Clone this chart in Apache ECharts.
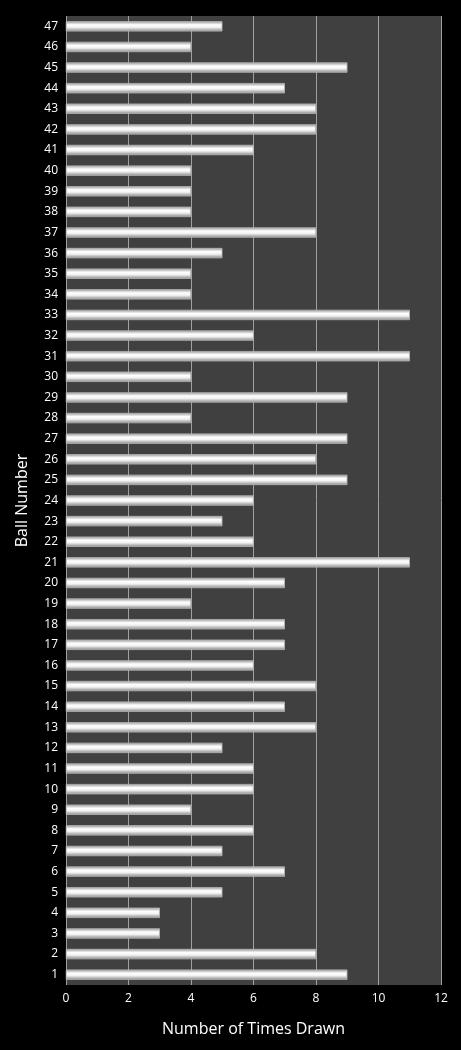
<!DOCTYPE html>
<html><head><meta charset="utf-8">
<script src="https://cdn.jsdelivr.net/npm/echarts@6/dist/echarts.min.js"></script>
<style>html,body{margin:0;background:#000}#c{width:461px;height:1050px}</style>
</head><body><div id="c"></div>
<script>
const categories = Array.from({length:47},(_,i)=>String(i+1));
const timesDrawn = [9,8,3,3,5,7,5,6,4,6,6,5,8,7,8,6,7,7,4,7,11,6,5,6,9,8,9,4,9,4,11,6,11,4,4,5,8,4,4,4,6,8,8,7,9,4,5];
const xTicks = {min:0,max:12,interval:2};
const chart = echarts.init(document.getElementById('c'));
chart.setOption({
  backgroundColor:'#000',
  grid:{left:66,right:20,top:16,bottom:65,show:true,backgroundColor:'#404040',borderWidth:0},
  xAxis:{type:'value',min:xTicks.min,max:xTicks.max,interval:xTicks.interval,
    name:'Number of Times Drawn',nameLocation:'middle',nameGap:36,
    nameTextStyle:{color:'#fff',fontSize:16,fontFamily:'Open Sans'},
    axisLabel:{color:'#fff',fontSize:12,fontFamily:'Open Sans'},
    axisLine:{show:false},axisTick:{show:false},
    splitLine:{lineStyle:{color:'#a0a0a0',width:1}}},
  yAxis:{type:'category',data:categories,
    name:'Ball Number',nameLocation:'middle',nameGap:36,
    nameTextStyle:{color:'#fff',fontSize:16,fontFamily:'Open Sans'},
    axisLabel:{color:'#fff',fontSize:12,fontFamily:'Open Sans',interval:0},
    axisLine:{show:false},axisTick:{show:false}},
  series:[{type:'bar',data:timesDrawn,barWidth:10,
    itemStyle:{color:new echarts.graphic.LinearGradient(0,0,0,1,[
      {offset:0,color:'#9a9a9a'},{offset:0.35,color:'#ffffff'},{offset:0.6,color:'#f2f2f2'},{offset:1,color:'#8a8a8a'}]),
      borderColor:'#bbbbbb',borderWidth:0.5}}]
});
</script></body></html>
